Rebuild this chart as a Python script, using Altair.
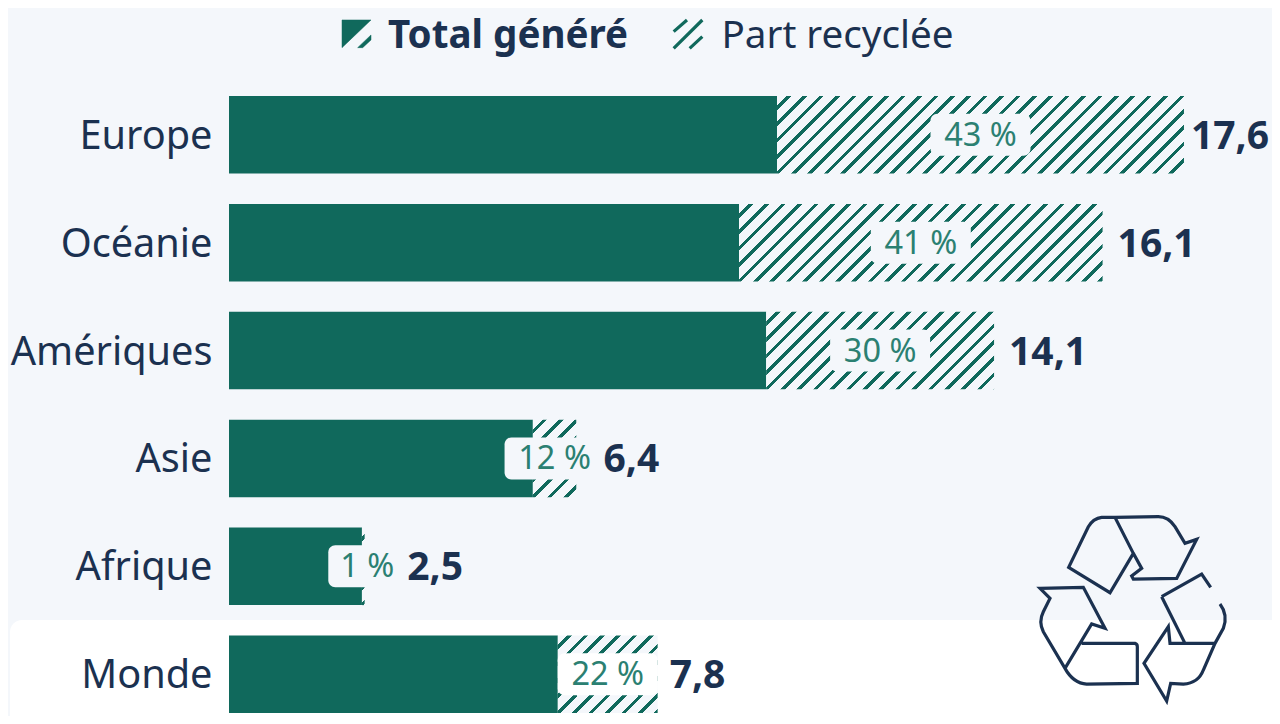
import altair as alt
import pandas as pd

regions = ["Europe", "Océanie", "Amériques", "Asie", "Afrique", "Monde"]
solid_end = [10.1, 9.4, 9.9, 5.6, 2.45, 6.06]
bar_end = [17.6, 16.1, 14.1, 6.4, 2.5, 7.9]
total_labels = ["17,6", "16,1", "14,1", "6,4", "2,5", "7,8"]
share_labels = ["43 %", "41 %", "30 %", "12 %", "1 %", "22 %"]

FONT = "Noto Sans"
GREEN = "#10695c"
TEAL_TEXT = "#2b8072"
NAVY = "#1b3150"
BG = "#f4f7fb"
PX_PER_UNIT = 54.26
W, H = 1043, 708
BAR_H = 77.5
PERIOD, STRIPE, PHASE = 16.4, 4.6, 9.5


def hatch(width_px):
    span = width_px + BAR_H
    a = width_px * span / (width_px ** 2 + BAR_H ** 2)
    stops = []
    pos = PHASE - PERIOD
    stops.append(alt.GradientStop(color=BG, offset=0))
    while pos < span:
        p0, p1 = max(pos, 0) / span, min(pos + STRIPE, span) / span
        if pos + STRIPE > 0:
            stops += [alt.GradientStop(color=BG, offset=p0), alt.GradientStop(color=GREEN, offset=p0),
                      alt.GradientStop(color=GREEN, offset=p1), alt.GradientStop(color=BG, offset=p1)]
        pos += PERIOD
    stops.append(alt.GradientStop(color=BG, offset=1))
    return alt.LinearGradient(gradient="linear", x1=0, y1=0, x2=a, y2=a * BAR_H / width_px, stops=stops)


df = pd.DataFrame({"region": regions, "solid": solid_end, "end": bar_end,
                   "total": total_labels, "share": share_labels})
df["mid"] = (df["solid"] + df["end"]) / 2
# the "1 %" label of the very short Afrique segment sits slightly right of that segment's middle
df.loc[df.region == "Afrique", "mid"] += 4 / PX_PER_UNIT
half_px = df["share"].str.len().map({4: 50, 3: 39})
df["pad_lo"] = df["mid"] - half_px / PX_PER_UNIT
df["pad_hi"] = df["mid"] + half_px / PX_PER_UNIT
text_half = df["share"].str.len().map({4: 34, 3: 25})
df["anchor"] = pd.concat([df["end"], df["mid"] + text_half / PX_PER_UNIT], axis=1).max(axis=1)
# the page leaves no room past x=1272, so the widest label sits a little closer to its bar
df.loc[df.region == "Europe", "anchor"] -= 8 / PX_PER_UNIT
df.loc[df.region == "Monde", "anchor"] -= 3 / PX_PER_UNIT

xs = alt.Scale(domain=[0, W / PX_PER_UNIT], nice=False, zero=False)
ys = alt.Scale(domain=regions, range=[88, 705], paddingInner=0.281, paddingOuter=0, round=False)
X = lambda f: alt.X(f, type="quantitative", scale=xs, axis=None)
Y = alt.Y("region:N", scale=ys, sort=None, title=None,
          axis=alt.Axis(domain=False, ticks=False, grid=False, labelFont=FONT, labelFontSize=39.7,
                        labelColor=NAVY, labelPadding=17, labelLimit=300, zindex=1, labelOffset=2))

one = pd.DataFrame({"a": [0]})
panel = alt.Chart(one).mark_rect(fill="white", cornerRadius=12).encode(
    x=alt.value(-219), x2=alt.value(1060), y=alt.value(612), y2=alt.value(740))

solid = alt.Chart(df).mark_bar(color=GREEN).encode(
    x=X("zero_:Q"), x2="solid:Q", y=Y).transform_calculate(zero_="0")

hatches = [
    alt.Chart(df[df.region == r]).mark_bar(
        fill=hatch(max((e - s) * PX_PER_UNIT, 3))).encode(x=X("solid:Q"), x2="end:Q", y=Y)
    for r, s, e in zip(regions, solid_end, bar_end)
]

pads = alt.Chart(df[df.region != "Monde"]).mark_rect(height=42, cornerRadius=7, fill=BG).encode(
    x=X("pad_lo:Q"), x2="pad_hi:Q", y=Y)
pads_white = alt.Chart(df[df.region == "Monde"]).mark_rect(height=42, cornerRadius=7, fill="white").encode(
    x=X("pad_lo:Q"), x2="pad_hi:Q", y=Y)
share_text = alt.Chart(df).mark_text(font=FONT, fontSize=32.5, color=TEAL_TEXT, align="center",
                                     baseline="middle", dy=1).encode(
    x=X("mid:Q"), y=Y, text="share:N")
total_text = alt.Chart(df).mark_text(font=FONT, fontSize=39, fontWeight="bold", color=NAVY,
                                     align="left", baseline="middle", dx=15, dy=2).encode(
    x=X("anchor:Q"), y=Y, text="total:N")

recycle_path = (
    "M-45,-268 L85,-270 Q115,-270 135,-240 L165,-190 L200,-202 L140,-85 L10,-83 L5,-92 L35,-115 L10,-160 Z "
    "M-45,-268 L-85,-268 Q-110,-265 -125,-240 L-184,-118 L-60,-42 L10,-160 "
    "M95,-30 L215,-98 L242,-58 M270,-8 Q295,25 280,65 L255,110 "
    "M95,-30 L165,110 "
    "M255,110 L120,110 L115,60 L42,170 L110,283 L122,230 L160,232 Q205,230 220,190 L255,110 "
    "M-270,-55 L-140,-58 L-75,65 L-115,52 L-195,185 L-260,75 Q-275,45 -260,15 L-240,-25 Z "
    "M-145,110 L15,110 Q22,112 22,120 L22,230 L-130,232 Q-170,230 -195,185"
)
icon = alt.Chart(one).mark_point(shape=recycle_path, size=4 / 9, filled=False, stroke=NAVY,
                                 strokeWidth=3.2, opacity=1).encode(
    x=alt.value(901), y=alt.value(598.7))

legend_total = alt.Chart(one).mark_point(
    shape="M-42,-40 L45,-40 L-42,43 Z M5,43 L45,5 L45,20 L20,43 Z", size=4 / 9, filled=True,
    fill=GREEN, stroke=GREEN, strokeWidth=0.5, opacity=1).encode(x=alt.value(127), y=alt.value(25.3))
legend_part = alt.Chart(one).mark_point(
    shape="M-43,-7 L-3,-42 M-43,43 L43,-42 M5,43 L43,8", size=4 / 9, filled=False,
    stroke=GREEN, strokeWidth=3.2, opacity=1).encode(x=alt.value(459), y=alt.value(26))
legend_t1 = alt.Chart(one).mark_text(text="Total généré", font=FONT, fontSize=38.6, fontWeight="bold",
                                     color=NAVY, align="left", baseline="middle").encode(
    x=alt.value(159), y=alt.value(28))
legend_t2 = alt.Chart(one).mark_text(text="Part recyclée", font=FONT, fontSize=38.6, color=NAVY,
                                     align="left", baseline="middle").encode(
    x=alt.value(492.5), y=alt.value(28))

chart = alt.layer(panel, solid, *hatches, pads, pads_white, share_text, total_text, icon,
                  legend_total, legend_part, legend_t1, legend_t2).properties(
    width=W, height=H, background=BG,
    autosize=alt.AutoSizeParams(type="none"),
    padding={"left": 221, "top": 0, "right": 0, "bottom": 0},
).configure_view(stroke=None)

chart.save("out.html", embed_options={"renderer": "svg", "actions": False})
